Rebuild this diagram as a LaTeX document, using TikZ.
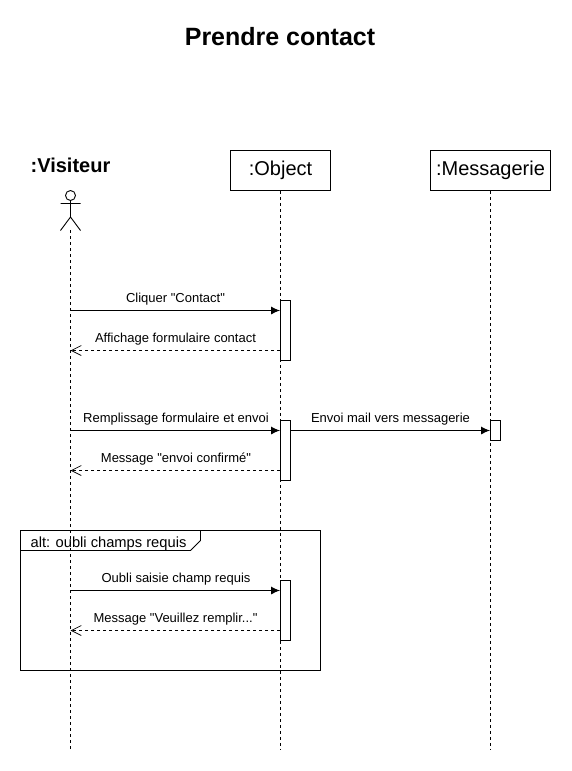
\documentclass[tikz,border=0pt]{standalone}
\usepackage{fontspec}
\newfontfamily\plainf{Liberation Sans}
\usetikzlibrary{arrows.meta}
\tikzset{
  px/.style={x=1pt,y=-1pt},
  obj/.style={draw=black,fill=white,line width=0.9pt,minimum height=40pt,inner sep=0pt,font=\plainf\fontsize{20}{22}\selectfont},
  act/.style={draw=black,fill=white,line width=0.9pt,minimum width=10pt,inner sep=0pt},
  life/.style={line width=0.9pt,dash pattern=on 3pt off 3pt},
  msg/.style={line width=1pt,-{Latex[length=9pt,width=8pt]}},
  ret/.style={line width=0.8pt,dash pattern=on 3pt off 3pt,-{Straight Barb[length=10pt,width=10pt,line width=0.7pt]}},
  lbl/.style={font=\plainf\fontsize{13}{15}\selectfont,inner sep=0pt,anchor=base},
}
\begin{document}
\begin{tikzpicture}[px]
\useasboundingbox (0,0) rectangle (571,771);
\fill[white] (0,0) rectangle (571,771);
\node[font=\plainf\bfseries\fontsize{25}{28}\selectfont,inner sep=0pt,anchor=base] (title) at (280,45) {Prendre contact};
\node[font=\plainf\bfseries\fontsize{20}{22}\selectfont,inner sep=0pt,anchor=base] (vis) at (70.5,172) {:Visiteur};
% lifelines
\coordinate (aTop) at (70.5,230);
\coordinate (aEnd) at (70.5,750);
\node[obj,minimum width=100pt] (oObj) at (280.5,170.5) {:Object};
\node[obj,minimum width=120pt] (oMsg) at (490.5,170.5) {:Messagerie};
\coordinate (oEnd) at (280.5,750);
\coordinate (mEnd) at (490.5,750);
\draw[life] (aTop) -- (aEnd);
\draw[life] (oObj.south) -- (oEnd);
\draw[life] (oMsg.south) -- (mEnd);
% actor
\draw[line width=0.9pt] (70.5,195.5) circle (5pt);
\draw[line width=0.9pt] (70.5,200.5) -- (70.5,217) (60.5,203.5) -- (80.5,203.5) (60.5,230.5) -- (70.5,217) -- (80.5,230.5);
% frame
\draw[line width=0.9pt] (20.5,530.5) rectangle (320.5,670.5);
\draw[line width=0.9pt] (20.5,550.5) -- (190.5,550.5) -- (200.5,540.5) -- (200.5,530.5);
\node[lbl,font=\plainf\fontsize{14.7}{16}\selectfont] (fl) at (108.5,547) {alt: oubli champs requis};
% activations
\node[act,minimum height=60pt] (a1) at (285.5,330.5) {};
\node[act,minimum height=60pt] (a2) at (285.5,450.5) {};
\node[act,minimum height=60pt] (a3) at (285.5,610.5) {};
\node[act,minimum height=20pt] (a4) at (495.5,430.5) {};
% anchors on actor lifeline
\coordinate (s1) at (70.5,310.5);
\coordinate (s2) at (70.5,350.5);
\coordinate (s3) at (70.5,430.5);
\coordinate (s4) at (70.5,470.5);
\coordinate (s5) at (70.5,590.5);
\coordinate (s6) at (70.5,630.5);
\draw[msg] (s1) -- (a1.west |- s1);
\draw[ret] (a1.west |- s2) -- (s2);
\draw[msg] (s3) -- (a2.west |- s3);
\draw[ret] (a2.west |- s4) -- (s4);
\draw[msg] (a2.east |- s3) -- (a4.west |- s3);
\draw[msg] (s5) -- (a3.west |- s5);
\draw[ret] (a3.west |- s6) -- (s6);
\node[lbl] (m1) at (175.5,302) {Cliquer "Contact"};
\node[lbl] (m2) at (175.5,342) {Affichage formulaire contact};
\node[lbl] (m3) at (176,422) {Remplissage formulaire et envoi};
\node[lbl] (m4) at (176,462) {Message "envoi confirmé"};
\node[lbl] (m5) at (390.5,422) {Envoi mail vers messagerie};
\node[lbl] (m6) at (176,582) {Oubli saisie champ requis};
\node[lbl] (m7) at (175.5,622) {Message "Veuillez remplir..."};
\end{tikzpicture}
\end{document}
